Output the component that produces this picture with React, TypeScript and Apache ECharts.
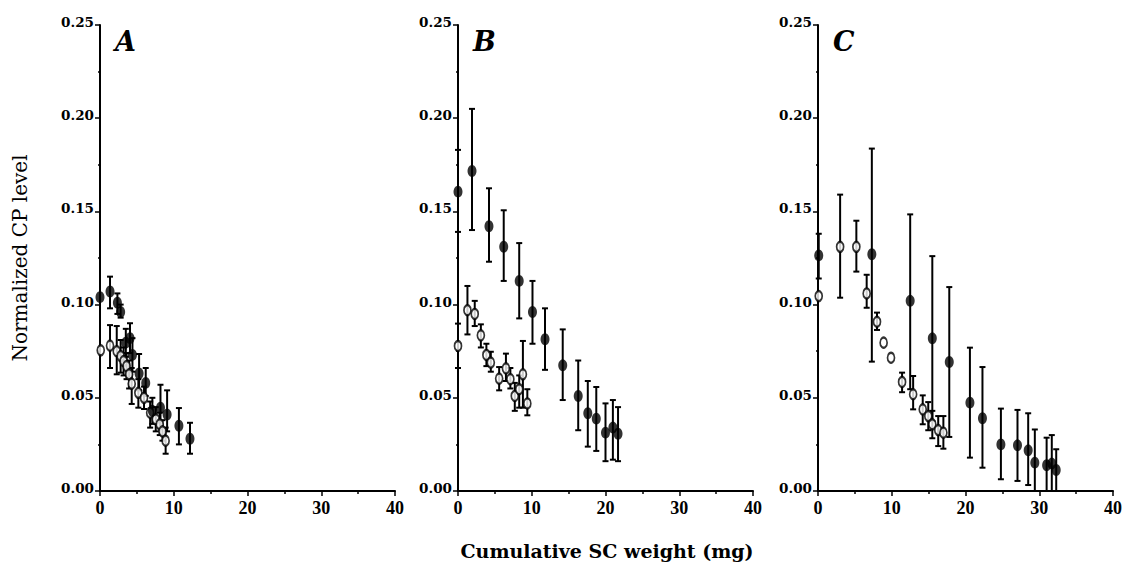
import React, { useEffect, useRef } from "react";
import * as echarts from "echarts";

// rows: [x (mg), y, lower, upper]
const panelLetters = ["A", "B", "C"];
const xTicks = [0, 10, 20, 30, 40];
const yTicks = [0, 0.05, 0.1, 0.15, 0.2, 0.25];

const aFilled = [
  [0, 0.104, 0.104, 0.104],
  [1.36, 0.107, 0.098, 0.115],
  [2.36, 0.101, 0.095, 0.106],
  [2.8, 0.096, 0.093, 0.1],
  [3.5, 0.0796, 0.072, 0.087],
  [4.07, 0.082, 0.074, 0.09],
  [4.4, 0.073, 0.064, 0.082],
  [5.3, 0.063, 0.054, 0.0735],
  [6.2, 0.058, 0.051, 0.066],
  [7.1, 0.043, 0.036, 0.05],
  [8.2, 0.0447, 0.034, 0.057],
  [9.1, 0.041, 0.032, 0.054],
  [10.7, 0.035, 0.025, 0.0445],
  [12.2, 0.028, 0.02, 0.0366],
];
const aOpen = [
  [0.1, 0.0755, 0.0755, 0.0755],
  [1.36, 0.078, 0.066, 0.089],
  [2.27, 0.075, 0.0626, 0.0885],
  [2.8, 0.0724, 0.0635, 0.081],
  [3.2, 0.0697, 0.062, 0.077],
  [3.6, 0.067, 0.06, 0.074],
  [3.95, 0.0626, 0.055, 0.07],
  [4.3, 0.0576, 0.0467, 0.066],
  [5.2, 0.0527, 0.0447, 0.06],
  [5.97, 0.05, 0.044, 0.056],
  [6.8, 0.042, 0.034, 0.048],
  [7.56, 0.0385, 0.032, 0.045],
  [8.1, 0.0358, 0.03, 0.042],
  [8.47, 0.032, 0.027, 0.038],
  [8.9, 0.027, 0.02, 0.034],
];
const bFilled = [
  [0, 0.1606, 0.139, 0.183],
  [1.9, 0.1717, 0.14, 0.205],
  [4.2, 0.142, 0.123, 0.1624],
  [6.2, 0.131, 0.1127, 0.1506],
  [8.3, 0.1127, 0.0926, 0.133],
  [10.1, 0.096, 0.079, 0.1127],
  [11.8, 0.0814, 0.065, 0.098],
  [14.2, 0.0674, 0.0488, 0.0867],
  [16.3, 0.051, 0.0326, 0.07],
  [17.6, 0.0417, 0.0238, 0.059],
  [18.75, 0.0388, 0.0215, 0.0558],
  [20.0, 0.0313, 0.016, 0.047],
  [21.0, 0.034, 0.0168, 0.0488],
  [21.7, 0.0307, 0.016, 0.045],
];
const bOpen = [
  [0, 0.0778, 0.066, 0.0898],
  [1.28, 0.097, 0.084, 0.11],
  [2.27, 0.095, 0.0885, 0.102],
  [3.1, 0.0835, 0.077, 0.0894],
  [3.85, 0.073, 0.067, 0.079],
  [4.45, 0.0689, 0.064, 0.0747],
  [5.58, 0.0603, 0.054, 0.0665],
  [6.5, 0.0658, 0.059, 0.0737],
  [7.1, 0.06, 0.055, 0.066],
  [7.7, 0.051, 0.043, 0.058],
  [8.3, 0.0546, 0.0447, 0.062],
  [8.8, 0.0626, 0.0447, 0.0805],
  [9.4, 0.047, 0.0406, 0.0546],
];
const cFilled = [
  [0.1, 0.1264, 0.114, 0.138],
  [7.3, 0.127, 0.0694, 0.1837],
  [12.5, 0.102, 0.0546, 0.1484],
  [15.5, 0.0819, 0.0376, 0.126],
  [17.8, 0.0692, 0.029, 0.1094],
  [20.6, 0.0474, 0.0179, 0.0769],
  [22.3, 0.039, 0.0125, 0.0665],
  [24.8, 0.025, 0.0063, 0.0442],
  [27.05, 0.0245, 0.0054, 0.0435],
  [28.5, 0.0218, 0.0032, 0.0417],
  [29.4, 0.0152, 0, 0.033],
  [31.0, 0.0138, 0, 0.0286],
  [31.7, 0.0147, 0, 0.03],
  [32.3, 0.0113, 0, 0.0224],
];
const cOpen = [
  [0.1, 0.1046, 0.1046, 0.1046],
  [3.0, 0.131, 0.1037, 0.159],
  [5.2, 0.131, 0.1177, 0.145],
  [6.6, 0.106, 0.0983, 0.116],
  [8.0, 0.0908, 0.0864, 0.0957],
  [8.9, 0.0796, 0.0796, 0.0796],
  [9.9, 0.0715, 0.0715, 0.0715],
  [11.4, 0.0585, 0.053, 0.0635],
  [12.9, 0.0519, 0.0438, 0.0617],
  [14.2, 0.0438, 0.0358, 0.0513],
  [14.95, 0.0402, 0.0326, 0.0477],
  [15.5, 0.0358, 0.0283, 0.043],
  [16.3, 0.0327, 0.0241, 0.0402],
  [17.0, 0.0313, 0.0227, 0.0402],
];

const xTitle = "Cumulative SC weight (mg)";
const yTitle = "Normalized CP level";

const panels = [
  { filled: aFilled, open: aOpen },
  { filled: bFilled, open: bOpen },
  { filled: cFilled, open: cOpen },
];

const gridLefts = [100, 458, 818];
const gridWidth = 295;
const gridTop = 25;
const gridHeight = 466;
const SERIF = "'DejaVu Serif', 'Liberation Serif', serif";
const TIMES = "'Liberation Serif', serif";

function errorRender(params: any, api: any) {
  const x = api.value(0);
  const lo = api.value(2);
  const hi = api.value(3);
  if (hi - lo < 1e-6) return null;
  const p1 = api.coord([x, lo]);
  const p2 = api.coord([x, hi]);
  const cap = 3;
  const style = { stroke: "#000", lineWidth: 2 };
  return {
    type: "group",
    children: [
      { type: "line", shape: { x1: p1[0], y1: p1[1], x2: p2[0], y2: p2[1] }, style },
      { type: "line", shape: { x1: p1[0] - cap, y1: p1[1], x2: p1[0] + cap, y2: p1[1] }, style },
      { type: "line", shape: { x1: p2[0] - cap, y1: p2[1], x2: p2[0] + cap, y2: p2[1] }, style },
    ],
  };
}

export default function App() {
  const ref = useRef<HTMLDivElement>(null);
  useEffect(() => {
    if (!ref.current) return;
    const chart = echarts.init(ref.current, undefined, { renderer: "svg" });
    const grid = gridLefts.map((l) => ({ left: l, top: gridTop, width: gridWidth, height: gridHeight }));
    const xAxis = gridLefts.map((_, i) => ({
      type: "value",
      gridIndex: i,
      min: xTicks[0],
      max: xTicks[xTicks.length - 1],
      interval: 10,
      axisLine: { show: true, lineStyle: { color: "#000", width: 2 } },
      axisTick: { show: true, length: 5, lineStyle: { color: "#000", width: 1.5 } },
      minorTick: { show: true, splitNumber: 2, length: 3, lineStyle: { color: "#000", width: 1.5 } },
      splitLine: { show: false },
      axisLabel: { color: "#000", fontFamily: TIMES, fontWeight: "bold", fontSize: 18, margin: 8 },
    }));
    const yAxis = gridLefts.map((_, i) => ({
      type: "value",
      gridIndex: i,
      min: yTicks[0],
      max: yTicks[yTicks.length - 1],
      interval: 0.05,
      axisLine: { show: true, lineStyle: { color: "#000", width: 2 } },
      axisTick: { show: true, length: 5, lineStyle: { color: "#000", width: 1.5 } },
      minorTick: { show: true, splitNumber: 2, length: 2, lineStyle: { color: "#000", width: 1.5 } },
      splitLine: { show: false },
      axisLabel: {
        color: "#000",
        fontFamily: SERIF,
        fontWeight: "bold",
        fontSize: 13.5,
        margin: 6,
        verticalAlign: "bottom",
        lineHeight: 6,
        formatter: (v: number) => v.toFixed(2),
      },
    }));
    const series: any[] = [];
    panels.forEach((p, i) => {
      [p.filled, p.open].forEach((d) => {
        series.push({
          type: "custom",
          xAxisIndex: i,
          yAxisIndex: i,
          data: d,
          encode: { x: 0, y: [1, 2, 3] },
          renderItem: errorRender,
          z: 2,
        });
      });
      series.push({
        type: "scatter",
        xAxisIndex: i,
        yAxisIndex: i,
        data: p.open.map((r) => [r[0], r[1]]),
        symbol: "circle",
        symbolSize: [7, 10],
        itemStyle: { color: "#fff", borderColor: "#000", borderWidth: 2 },
        z: 3,
      });
      series.push({
        type: "scatter",
        xAxisIndex: i,
        yAxisIndex: i,
        data: p.filled.map((r) => [r[0], r[1]]),
        symbol: "circle",
        symbolSize: [9, 12],
        itemStyle: { color: "#000" },
        z: 4,
      });
    });
    const graphic: any[] = panelLetters.map((t, i) => ({
      type: "text",
      left: gridLefts[i] + 15,
      top: 28,
      style: { text: t, font: `italic bold 27px ${SERIF}`, fill: "#000" },
    }));
    graphic.push({
      type: "text",
      x: 20,
      y: 258,
      rotation: Math.PI / 2,
      style: { text: yTitle, font: `20px ${SERIF}`, fill: "#000", align: "center", verticalAlign: "middle" },
    });
    graphic.push({
      type: "text",
      x: 607,
      y: 551,
      style: { text: xTitle, font: `bold 19px ${SERIF}`, fill: "#000", align: "center", verticalAlign: "middle" },
    });
    chart.setOption({
      animation: false,
      backgroundColor: "#fff",
      grid,
      xAxis,
      yAxis,
      series,
      graphic,
    });
    return () => chart.dispose();
  }, []);
  return <div ref={ref} style={{ width: 1125, height: 567, position: "absolute", left: 0, top: 0 }} />;
}
